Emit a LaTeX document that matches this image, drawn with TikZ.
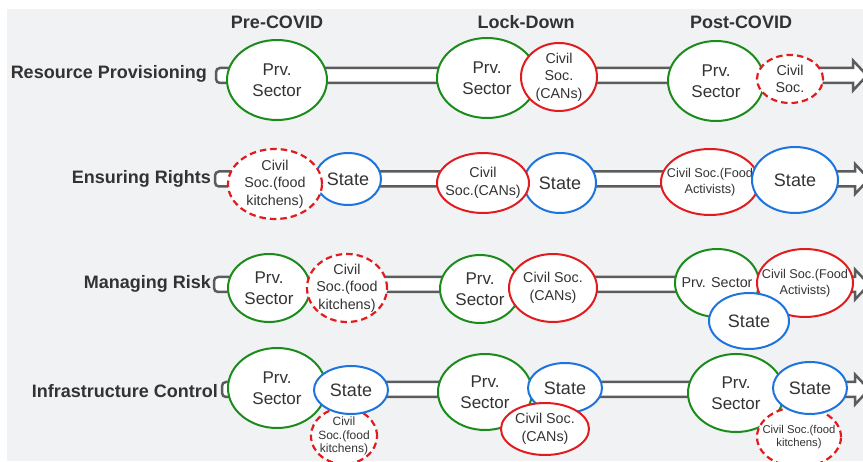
\documentclass[tikz,border=0pt]{standalone}
\usepackage{fontspec}
\setmainfont{Liberation Sans}
\usetikzlibrary{shapes.geometric,calc}
\definecolor{bgray}{RGB}{241,242,244}
\definecolor{ink}{RGB}{51,51,51}
\definecolor{bandline}{RGB}{92,92,92}
\definecolor{prvgreen}{RGB}{27,140,27}
\definecolor{civred}{RGB}{226,28,30}
\definecolor{stateblue}{RGB}{30,116,222}

% one actor: name, outline style, x, y, half width, half height, text style, text
\newcommand\actor[8]{%
  \node[#2, minimum width=2*#5, minimum height=2*#6] (#1) at (#3,#4) {};
  \node[#7] (#1-t) at (#1.center) {#8};}

% one row's wide arrow from a start coordinate to the base of its head
\newcommand\band[2]{%
  \draw[band] ($(#2)+(0,-7.5)$) -- ($(#1)+(4,-7.5)$)
    arc[start angle=90, end angle=180, radius=4pt] -- ($(#1)+(0,3.5)$)
    arc[start angle=180, end angle=270, radius=4pt] -- ($(#2)+(0,7.5)$)
    -- ($(#2)+(0,15)$) -- ($(#2)+(14,0)$) -- ($(#2)+(0,-15)$) -- cycle;}

\begin{document}
\begin{tikzpicture}[x=1pt,y=-1pt,
  every node/.style={inner sep=0pt, text=ink},
  actorbase/.style={ellipse, fill=white, line width=2pt},
  prv/.style={actorbase, draw=prvgreen},
  civ/.style={actorbase, draw=civred},
  civd/.style={actorbase, draw=civred, line width=2.2pt, dash pattern=on 6.5pt off 4pt},
  sta/.style={actorbase, draw=stateblue},
  big/.style={align=center, font=\fontsize{17}{21}\selectfont},
  state/.style={align=center, font=\fontsize{18}{20}\selectfont},
  mid/.style={align=center, font=\fontsize{14.3}{17.5}\selectfont},
  smallish/.style={align=center, font=\fontsize{12.7}{16}\selectfont},
  tiny/.style={align=center, font=\fontsize{12}{13.5}\selectfont},
  tinier/.style={align=center, font=\fontsize{11.3}{13}\selectfont},
  hdr/.style={font=\bfseries\fontsize{18}{20}\selectfont},
  rowlbl/.style={anchor=east, font=\bfseries\fontsize{18}{20}\selectfont},
  band/.style={draw=bandline, fill=white, line width=2.5pt, line join=miter}]

\useasboundingbox (0,0) rectangle (863,462);
\fill[bgray] (7,9) rectangle (863,461);

% phase headings
\node[hdr] (hPre)  at (277,22) {Pre-COVID};
\node[hdr] (hLock) at (526,22) {Lock-Down};
\node[hdr] (hPost) at (741,22) {Post-COVID};

% row headings
\node[rowlbl] (lRP) at (207,74)  {Resource Provisioning};
\node[rowlbl] (lER) at (211,179) {Ensuring Rights};
\node[rowlbl] (lMR) at (211,284) {Managing Risk};
\node[rowlbl] (lIC) at (218,391) {Infrastructure Control};

% arrow ends
\coordinate (rpS) at (216,75.5);  \coordinate (rpE) at (853,75.5);
\coordinate (erS) at (215,179);   \coordinate (erE) at (855,179);
\coordinate (mrS) at (214,284.5); \coordinate (mrE) at (855,284.5);
\coordinate (icS) at (222,389.5); \coordinate (icE) at (855,389.5);
\band{rpS}{rpE}
\band{erS}{erE}
\band{mrS}{mrE}
\band{icS}{icE}

% Resource Provisioning
\actor{rpPreP}{prv}{277}{80}{50}{40}{big}{Prv.\\Sector}
\actor{rpLockP}{prv}{487}{78}{50}{40}{big}{Prv.\\Sector}
\actor{rpLockC}{civ}{559}{77}{38}{34}{mid}{Civil\\Soc.\\(CANs)}
\actor{rpPostP}{prv}{716}{81}{48}{40}{big}{Prv.\\Sector}
\actor{rpPostC}{civd}{790}{79}{33}{24}{mid}{Civil\\Soc.}

% Ensuring Rights
\actor{erPreS}{sta}{348}{179}{33}{26}{state}{State}
\actor{erPreC}{civd}{275}{184}{47}{35}{mid}{Civil\\Soc.(food\\kitchens)}
\actor{erLockS}{sta}{560}{183}{36}{30}{state}{State}
\actor{erLockC}{civ}{483}{183}{46}{30}{mid}{Civil\\Soc.(CANs)}
\actor{erPostC}{civ}{710}{182}{49}{33}{smallish}{Civil Soc.(Food\\Activists)}
\actor{erPostS}{sta}{795}{180}{43}{33}{state}{State}

% Managing Risk
\actor{mrPreP}{prv}{269}{288}{41}{34}{big}{Prv.\\Sector}
\actor{mrPreC}{civd}{347}{288}{40}{34}{mid}{Civil\\Soc.(food\\kitchens)}
\actor{mrLockP}{prv}{480}{289}{40}{34}{big}{Prv.\\Sector}
\actor{mrLockC}{civ}{553}{288}{44}{34}{mid}{Civil Soc.\\(CANs)}
\actor{mrPostP}{prv}{717}{283}{42}{34}{mid}{Prv. Sector}
\actor{mrPostC}{civ}{805}{283}{48}{34}{smallish}{Civil Soc.(Food\\Activists)}
\actor{mrPostS}{sta}{749}{321}{40}{28}{state}{State}

% Infrastructure Control
\actor{icPreP}{prv}{277}{388}{49}{40}{big}{Prv.\\Sector}
\actor{icPreC}{civd}{344}{436}{33}{28}{tiny}{Civil\\Soc.(food\\kitchens)}
\actor{icPreS}{sta}{351}{390}{37}{24}{state}{State}
\actor{icLockP}{prv}{485}{392}{47}{38}{big}{Prv.\\Sector}
\actor{icLockS}{sta}{565}{388}{37}{25}{state}{State}
\actor{icLockC}{civ}{545}{429}{44}{26}{mid}{Civil Soc.\\(CANs)}
\actor{icPostP}{prv}{736}{393}{48}{39}{big}{Prv.\\Sector}
\actor{icPostC}{civd}{799}{437}{42}{30}{tinier}{Civil Soc.(food\\kitchens)}
\actor{icPostS}{sta}{810}{388}{37}{26}{state}{State}
\end{tikzpicture}
\end{document}
